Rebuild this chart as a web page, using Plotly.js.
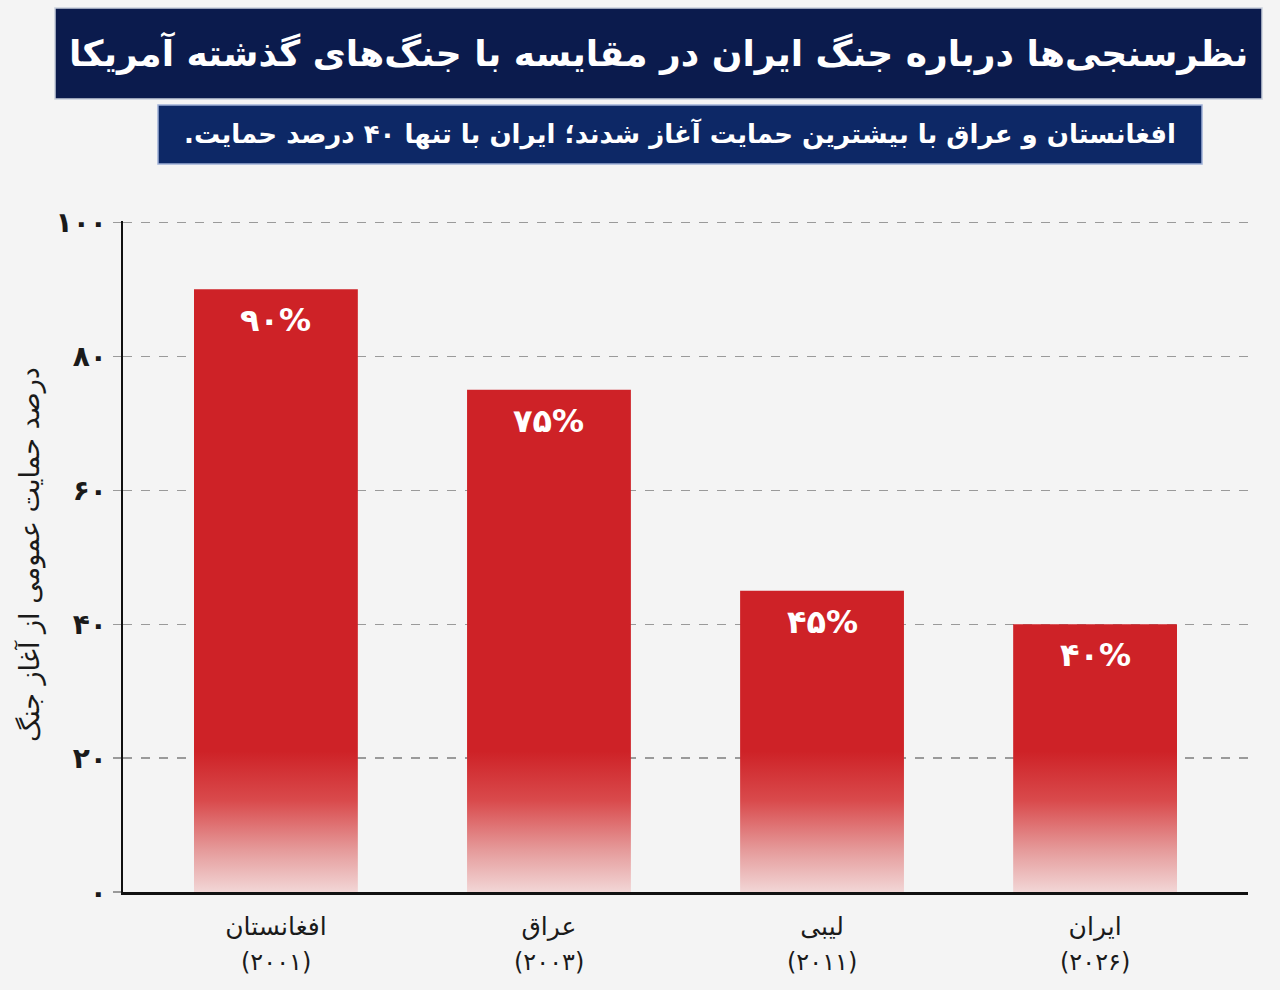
<!DOCTYPE html>
<html lang="fa">
<head>
<meta charset="utf-8">
<script src="https://cdn.plot.ly/plotly-3.0.1.min.js"></script>
<style>
  html, body { margin: 0; padding: 0; background: #f4f4f4; }
  #chart { width: 1280px; height: 990px; }
</style>
</head>
<body>
<div id="chart"></div>
<script>
// Public support at the start of each US war (percent)
const countries = ['افغانستان', 'عراق', 'لیبی', 'ایران'];
const years = ['۲۰۰۱', '۲۰۰۳', '۲۰۱۱', '۲۰۲۶'];
const support = [90, 75, 45, 40];
const yTickVals = [0, 20, 40, 60, 80, 100];

const titleText = 'نظرسنجی‌ها درباره جنگ ایران در مقایسه با جنگ‌های گذشته آمریکا';
const subtitleText = 'افغانستان و عراق با بیشترین حمایت آغاز شدند؛ ایران با تنها ۴۰ درصد حمایت.\u200F';
const yTitleText = 'درصد حمایت عمومی از آغاز جنگ';

// Western digits -> Persian digits
const faDigits = '۰۱۲۳۴۵۶۷۸۹';
const toFa = s => String(s).replace(/[0-9]/g, d => faDigits[+d]);

const W = 1280, H = 990;
const M = { l: 123, r: 32, t: 221, b: 98 };
const PW = W - M.l - M.r, PH = H - M.t - M.b;
const px2x = px => (px - M.l) / PW;
const px2y = py => (H - M.b - py) / PH;

const FONT = '"DejaVu Sans", "Noto Sans", sans-serif';
const RED = '#ce2227';

const trace = {
  type: 'bar',
  x: countries,
  y: support,
  width: 0.6,
  marker: { color: RED, line: { width: 0 } },
  hoverinfo: 'skip'
};

const annotations = [];

// page title and subtitle
annotations.push({
  xref: 'paper', yref: 'paper', x: px2x(658), y: px2y(53),
  xanchor: 'center', yanchor: 'middle', showarrow: false,
  text: titleText,
  font: { family: FONT, size: 36, color: '#ffffff', weight: 'bold' }
});
annotations.push({
  xref: 'paper', yref: 'paper', x: px2x(680), y: px2y(134),
  xanchor: 'center', yanchor: 'middle', showarrow: false,
  text: subtitleText,
  font: { family: FONT, size: 26, color: '#ffffff', weight: 'bold' }
});

// y axis title
annotations.push({
  xref: 'paper', yref: 'paper', x: px2x(30), y: px2y(555),
  xanchor: 'center', yanchor: 'middle', showarrow: false, textangle: -90,
  text: yTitleText,
  font: { family: FONT, size: 27, color: '#1a1a1a' }
});

// value labels inside the bars and year labels under the categories
countries.forEach((c, i) => {
  annotations.push({
    xref: 'x', yref: 'y', x: c, y: support[i],
    xanchor: 'center', yanchor: 'top', yshift: -10, showarrow: false,
    text: toFa(support[i]) + '%',
    font: { family: FONT, size: 32, color: '#ffffff', weight: 'bold' }
  });
  annotations.push({
    xref: 'x', yref: 'paper', x: c, y: px2y(962),
    xanchor: 'center', yanchor: 'middle', showarrow: false,
    text: '(' + toFa(years[i]) + ')',
    font: { family: FONT, size: 24, color: '#1a1a1a' }
  });
});

const shapes = [
  { type: 'rect', xref: 'paper', yref: 'paper', layer: 'below',
    x0: px2x(55), x1: px2x(1262), y0: px2y(99), y1: px2y(8),
    fillcolor: '#0b1b4d', line: { color: '#c9cfdc', width: 1.5 } },
  { type: 'rect', xref: 'paper', yref: 'paper', layer: 'below',
    x0: px2x(158), x1: px2x(1202), y0: px2y(164), y1: px2y(105),
    fillcolor: '#0d2866', line: { color: '#9fb0d6', width: 1.5 } }
];

const layout = {
  width: W, height: H,
  margin: M,
  paper_bgcolor: '#f4f4f4',
  plot_bgcolor: '#f4f4f4',
  showlegend: false,
  hovermode: false,
  font: { family: FONT, color: '#1a1a1a' },
  xaxis: {
    type: 'category',
    range: [-0.56, 3.56],
    showgrid: false,
    zeroline: false,
    showline: true, linecolor: '#111111', linewidth: 3,
    ticks: '',
    tickfont: { family: FONT, size: 25, color: '#1a1a1a' },
    ticklabelstandoff: 10,
    fixedrange: true
  },
  yaxis: {
    range: [0, 100.2],
    tickvals: yTickVals,
    ticktext: yTickVals.map(toFa),
    tickfont: { family: FONT, size: 28, color: '#1a1a1a', weight: 'bold' },
    showgrid: true, gridcolor: '#9a9a9a', gridwidth: 1.2, griddash: 'dash',
    zeroline: false,
    showline: true, linecolor: '#111111', linewidth: 2.5,
    ticks: 'outside', ticklen: 8, tickcolor: '#9a9a9a', tickwidth: 1.2,
    ticklabelstandoff: 0,
    fixedrange: true
  },
  shapes: shapes,
  annotations: annotations
};

const gd = document.getElementById('chart');
Plotly.newPlot(gd, [trace], layout, { displayModeBar: false, staticPlot: true }).then(() => {
  // fade the lower part of every bar toward the background
  const ya = gd._fullLayout.yaxis;
  const svgNS = 'http://www.w3.org/2000/svg';
  const svg = gd.querySelector('svg.main-svg');
  let defs = svg.querySelector('defs');
  if (!defs) { defs = document.createElementNS(svgNS, 'defs'); svg.insertBefore(defs, svg.firstChild); }
  const grad = document.createElementNS(svgNS, 'linearGradient');
  grad.setAttribute('id', 'barFade');
  grad.setAttribute('gradientUnits', 'userSpaceOnUse');
  grad.setAttribute('x1', '0'); grad.setAttribute('x2', '0');
  grad.setAttribute('y1', String(ya.l2p(21)));
  grad.setAttribute('y2', String(ya.l2p(0)));
  [[0, RED], [0.35, '#d94a4c'], [0.7, '#e59a9a'], [1, '#f2d6d6']].forEach(([o, c]) => {
    const s = document.createElementNS(svgNS, 'stop');
    s.setAttribute('offset', String(o));
    s.setAttribute('stop-color', c);
    grad.appendChild(s);
  });
  defs.appendChild(grad);
  gd.querySelectorAll('.barlayer .point path').forEach(p => {
    p.style.fill = 'url(#barFade)';
  });
});
</script>
</body>
</html>
